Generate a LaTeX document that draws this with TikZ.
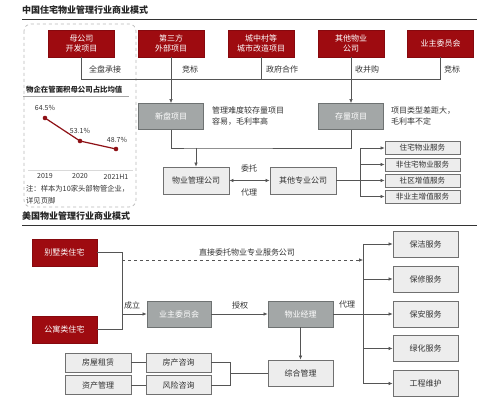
\documentclass[tikz,border=0pt]{standalone}
\usepackage{fontspec}
\setmainfont{Noto Sans CJK SC}
\usetikzlibrary{arrows.meta,positioning}
\definecolor{myred}{HTML}{9E0B10}
\definecolor{mydgray}{HTML}{A3A7A7}
\definecolor{mydgrayb}{HTML}{6E7272}
\definecolor{mylight}{HTML}{EDEDED}
\definecolor{myborder}{HTML}{707070}
\definecolor{myline}{HTML}{555555}
\definecolor{mytext}{HTML}{333333}
\definecolor{mychart}{HTML}{8E1116}
\tikzset{
  redbox/.style={draw=myred!85!black,fill=myred,text=white,minimum width=66pt,minimum height=27pt,inner sep=0pt,align=center,font=\fontsize{8}{10}\selectfont},
  dbox/.style={draw=mydgrayb,line width=0.8pt,fill=mydgray,text=white,minimum width=65pt,minimum height=26pt,inner sep=0pt,align=center,font=\fontsize{8}{10}\selectfont},
  lbox/.style={draw=myborder,line width=0.8pt,fill=mylight,text=mytext,minimum width=65pt,minimum height=26pt,inner sep=0pt,align=center,font=\fontsize{8}{10}\selectfont},
  sbox/.style={lbox,minimum width=75pt,minimum height=13pt,font=\fontsize{7.6}{8}\selectfont},
  tbox/.style={lbox,minimum width=66pt,minimum height=19pt},
  lbl/.style={text=mytext,inner sep=0pt,font=\fontsize{8}{11}\selectfont,align=left},
  conn/.style={draw=myline,line width=0.6pt},
  arr/.style={conn,-{Latex[length=4pt,width=3.5pt]}},
  ttl/.style={inner sep=0pt,anchor=west,text=black!85,font=\fontsize{9}{10}\selectfont\bfseries},
  clbl/.style={lbl,font=\fontsize{7}{8}\selectfont},
}
\begin{document}
\begin{tikzpicture}[x=1pt,y=-1pt]
\useasboundingbox (0,0) rectangle (499,403);
\fill[white] (0,0) rectangle (499,403);
% ---------- section 1
\node[ttl] (t1) at (22,10) {中国住宅物业管理行业商业模式};
\draw[black!80,line width=0.7pt] (22,19) -- (477,19);
\draw[gray!55,dashed,line width=0.7pt,rounded corners=7pt] (24,24) rectangle (136,207);

\node[redbox] (r1) at (81.5,43.5) {母公司\\开发项目};
\node[redbox] (r2) at (171,43.5) {第三方\\外部项目};
\node[redbox] (r3) at (261,43.5) {城中村等\\城市改造项目};
\node[redbox] (r4) at (351,43.5) {其他物业\\公司};
\node[redbox] (r5) at (440.5,43.5) {业主委员会};

\coordinate (hl) at (0,79);
\draw[conn] (r1.south) |- (r5.south |- hl) -- (r5.south);
\draw[conn] (r3.south) -- (r3.south |- hl);

\node[lbl] (l1) at (105,69) {全盘承接};
\node[lbl] (l2) at (190,69) {竞标};
\node[lbl] (l3) at (282,69) {政府合作};
\node[lbl] (l4) at (367,69) {收并购};
\node[lbl] (l5) at (452,69) {竞标};

\node[dbox] (n1) at (171,116.5) {新盘项目};
\node[dbox] (n2) at (351,116.5) {存量项目};
\draw[arr] (r2.south) -- (n1.north);
\draw[arr] (r4.south) -- (n2.north);
\node[lbl,anchor=west] (d1) at (212,116) {管理难度较存量项目\\容易，毛利率高};
\node[lbl,anchor=west] (d2) at (391,116) {项目类型差距大，\\毛利率不定};

\node[lbox,minimum width=66pt,minimum height=27pt] (pm) at (196,180.5) {物业管理公司};
\node[lbox,minimum width=66pt,minimum height=27pt] (qt) at (303,180.5) {其他专业公司};
\coordinate (mg) at (196,148);
\draw[conn] (n1.south) |- (mg) -| (n2.south);
\draw[arr] (mg) -- (pm.north);
\draw[conn,{Latex[length=4pt,width=3.5pt]}-{Latex[length=4pt,width=3.5pt]}] (pm.east) -- (qt.west);
\node[lbl] (wt) at (249,168.5) {委托};
\node[lbl] (dl) at (249,192.5) {代理};

\node[sbox] (s1) at (422.5,148) {住宅物业服务};
\node[sbox] (s2) at (422.5,164.5) {非住宅物业服务};
\node[sbox] (s3) at (422.5,180.5) {社区增值服务};
\node[sbox] (s4) at (422.5,196.5) {非业主增值服务};
\coordinate (vb) at (360,180.5);
\draw[conn] (qt.east) -- (vb);
\draw[conn] (vb |- s1) -- (vb |- s4);
\foreach \s in {s1,s2,s3,s4} \draw[arr] (vb |- \s) -- (\s.west);

% chart panel
\node[inner sep=0pt,anchor=west,text=black!85,font=\fontsize{7.4}{8}\selectfont\bfseries] (ct) at (26,89.5) {物企在管面积母公司占比均值};
\draw[gray!70,line width=0.6pt] (23,96) -- (129,96);
\coordinate (p1) at (45,118);
\coordinate (p2) at (80,141);
\coordinate (p3) at (116,149);
\draw[mychart,line width=1.2pt] (p1) -- (p2) -- (p3);
\foreach \p in {p1,p2,p3} \fill[mychart] (\p) circle (2.3pt);
\node[clbl] (v1) at (45,107.5) {64.5\%};
\node[clbl] (v2) at (80,130.5) {53.1\%};
\node[clbl] (v3) at (117,139.5) {48.7\%};
\draw[gray!30,line width=0.5pt] (28,170) -- (133,170);
\node[clbl] (x1) at (45,176.5) {2019};
\node[clbl] (x2) at (80,176.5) {2020};
\node[clbl] (x3) at (116,176.5) {2021H1};
\node[lbl,anchor=west,font=\fontsize{7.3}{12}\selectfont] (nt) at (26,195) {注：样本为10家头部物管企业，\\详见页脚};

% ---------- section 2
\node[ttl] (t2) at (22,216) {美国物业管理行业商业模式};
\draw[black!80,line width=0.7pt] (22,225) -- (477,225);

\node[redbox,minimum width=65pt] (b1) at (64.5,252.5) {别墅类住宅};
\node[redbox,minimum width=65pt] (b2) at (64.5,329.5) {公寓类住宅};
\node[dbox,minimum width=64pt] (yz) at (179,314) {业主委员会};
\node[dbox] (wj) at (300.5,314) {物业经理};
\node[lbox] (zh) at (300.5,373) {综合管理};

\coordinate (cv) at (122,314);
\draw[conn] (b1.east) -| (cv);
\draw[conn] (b2.east) -| (cv);
\draw[arr] (cv) -- (yz.west);
\node[lbl] (cl) at (132,305) {成立};
\draw[arr] (yz.east) -- (wj.west);
\node[lbl] (sq) at (240,305.5) {授权};
\draw[arr] (wj.south) -- (zh.north);

\node[lbox] (g1) at (425.5,244) {保洁服务};
\node[lbox] (g2) at (425.5,279) {保修服务};
\node[lbox] (g3) at (425.5,314) {保安服务};
\node[lbox] (g4) at (425.5,348.5) {绿化服务};
\node[lbox] (g5) at (425.5,383.5) {工程维护};
\coordinate (rv) at (363,314);
\draw[conn,line width=0.8pt] (wj.east) -- (rv);
\node[lbl] (dl2) at (347,305) {代理};
\draw[conn] (rv |- g1) -- (rv |- g5);
\foreach \g in {g1,g2,g3,g4,g5} \draw[arr] (rv |- \g) -- (\g.west);

\coordinate (ds) at (122,260);
\draw[arr,dashed] (ds) -- (rv |- ds);
\node[lbl] (zj) at (247,252) {直接委托物业专业服务公司};

\node[tbox] (f1) at (98,362.5) {房屋租赁};
\node[tbox] (f2) at (98,385) {资产管理};
\node[tbox,minimum width=65pt] (f3) at (178.5,362.5) {房产咨询};
\node[tbox,minimum width=65pt] (f4) at (178.5,385) {风险咨询};
\draw[conn] (f1.east) -- (f3.west);
\draw[conn] (f2.east) -- (f4.west);
\coordinate (jv) at (230,373);
\draw[conn] (f3.east) -| (jv);
\draw[conn] (f4.east) -| (jv);
\draw[conn] (jv) -- (zh.west);
\end{tikzpicture}
\end{document}
